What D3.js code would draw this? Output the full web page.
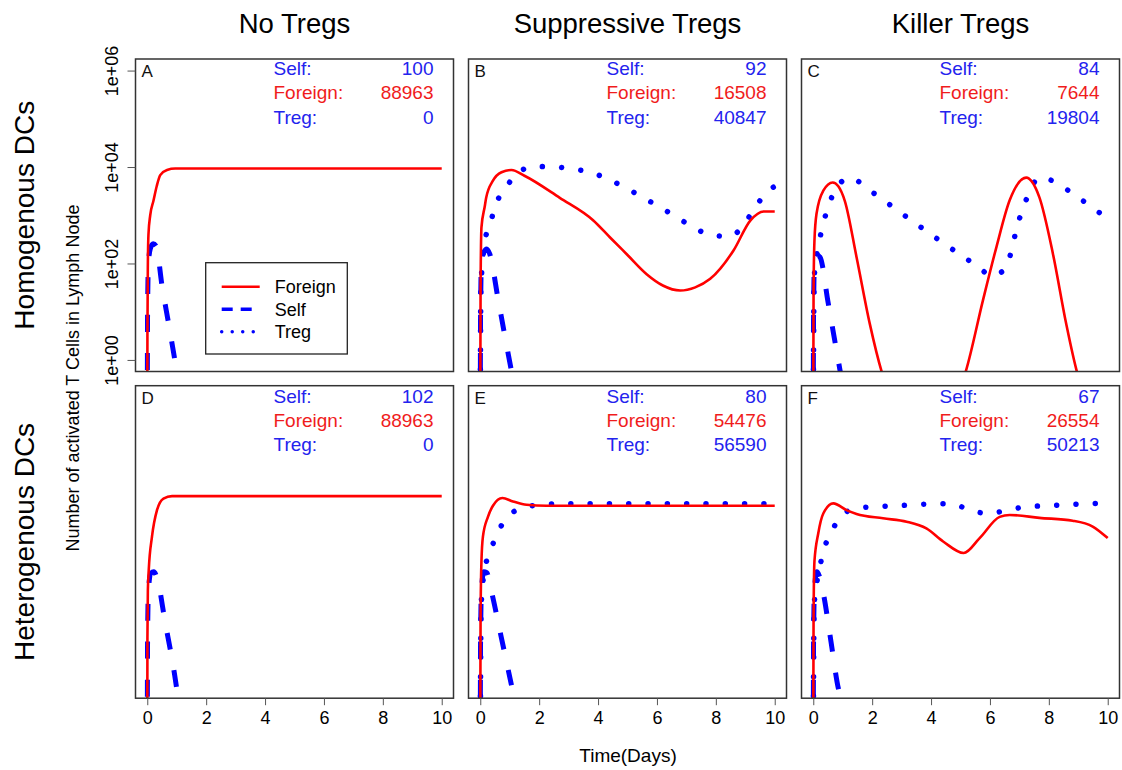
<!DOCTYPE html>
<html>
<head>
<meta charset="utf-8">
<script src="https://cdn.jsdelivr.net/npm/d3@7"></script>
<style>
  html, body { margin: 0; padding: 0; background: #ffffff; }
  svg { display: block; font-family: "Liberation Sans", Arial, Helvetica, sans-serif; }
</style>
</head>
<body>
<svg id="chart" width="1122" height="770"></svg>
<script>
// ---------------- DATA ----------------
const columnTitles = ["No Tregs", "Suppressive Tregs", "Killer Tregs"];
const rowTitles = ["Homogenous DCs", "Heterogenous DCs"];
const panelLetters = ["A", "B", "C", "D", "E", "F"];
const xTicks = [0, 2, 4, 6, 8, 10];
const yTicks = [1, 100, 10000, 1000000];
const yTickLabels = ["1e+00", "1e+02", "1e+04", "1e+06"];
const seriesNames = ["Foreign", "Self", "Treg"];
const yAxisTitle = "Number of activated T Cells in Lymph Node";
const xAxisTitle = "Time(Days)";

// totals shown in the panel corners  [Self, Foreign, Treg]
const totalsA = [100, 88963, 0];
const totalsB = [92, 16508, 40847];
const totalsC = [84, 7644, 19804];
const totalsD = [102, 88963, 0];
const totalsE = [80, 54476, 56590];
const totalsF = [67, 26554, 50213];

// time series [day, activated cells]
const foreignA = [[0,0.1],[0.005,3],[0.02,100],[0.04,400],[0.1,1000],[0.21,2000],[0.32,4000],[0.44,6800],[0.67,8700],[0.95,9300],[10,9300]];
const selfA    = [[0,0.1],[0.01,10],[0.04,100],[0.1,200],[0.2,255],[0.3,230],[0.5,35],[0.75,4.6],[1.0,0.58],[1.2,0.1]];
const tregA    = [];

const foreignB = [[0,0.1],[0.01,30],[0.04,560],[0.15,1500],[0.2,2300],[0.43,5200],[0.72,7800],[1.06,8700],[1.5,6600],[2.7,2300],[3.84,780],[4.4,350],[5.0,150],[5.65,60],[6.2,35],[6.79,27.5],[7.3,32],[7.81,48],[8.6,186],[9.17,776],[9.63,1200],[10,1200]];
const selfB    = [[0,0.1],[0.01,10],[0.04,100],[0.12,170],[0.22,200],[0.32,158],[0.6,19],[0.85,2.8],[1.06,0.58],[1.2,0.2]];
const tregB    = [[0,0.1],[0.02,30],[0.15,275],[0.34,676],[0.52,1622],[0.86,3631],[1.25,7413],[1.85,10233],[2.5,10000],[3.15,9120],[3.8,7586],[4.4,5370],[4.97,3631],[5.54,2291],[6.1,1479],[6.67,912],[7.24,562],[7.83,389],[8.47,363],[8.97,661],[9.32,1413],[9.71,2884],[10,4000]];

const foreignC = [[0,0.1],[0.01,30],[0.04,300],[0.11,1072],[0.34,3236],[0.66,4786],[0.85,4000],[1.07,1995],[1.47,135],[1.92,5.6],[2.32,0.58],[2.8,0.1],[3.75,0.03],[4.7,0.1],[5.18,0.58],[5.76,17],[6.22,219],[6.67,2042],[7.23,6026],[7.68,2344],[8.14,158],[8.59,5.6],[8.95,0.58],[9.4,0.1],[10,0.03]];
const selfC    = [[0,0.1],[0.01,10],[0.04,100],[0.12,150],[0.23,135],[0.5,16],[0.7,3.2],[0.9,0.65],[1.05,0.2]];
const tregC    = [[0,0.1],[0.03,50],[0.2,275],[0.34,676],[0.53,1622],[0.79,3802],[1.27,6026],[1.81,3631],[2.35,2138],[2.86,1259],[3.39,741],[3.93,427],[4.45,257],[5.0,151],[5.54,91],[6.07,56],[6.56,83],[6.74,200],[6.89,479],[7.08,1202],[7.32,2754],[7.66,6026],[8.25,4786],[8.78,2884],[9.3,1738],[9.83,1023],[10,900]];

const foreignD = [[0,0.1],[0.005,10],[0.02,100],[0.05,263],[0.16,1288],[0.33,4571],[0.55,7943],[0.84,8913],[10,8913]];
const selfD    = [[0,0.1],[0.01,10],[0.04,100],[0.12,224],[0.22,240],[0.35,162],[0.6,23],[0.92,1.9],[1.03,0.68],[1.15,0.2]];
const tregD    = [];

const foreignE = [[0,0.1],[0.01,30],[0.04,400],[0.09,1288],[0.26,3311],[0.43,5623],[0.75,8128],[1.11,6918],[1.57,5888],[2.25,5623],[10,5623]];
const selfE    = [[0,0.1],[0.01,10],[0.04,100],[0.12,240],[0.22,230],[0.37,100],[0.7,11.5],[1.06,1.07]];
const tregE    = [[0,0.1],[0.03,50],[0.15,263],[0.34,631],[0.57,1479],[0.91,3162],[1.43,5129],[2.08,5888],[2.7,6166],[10,6166]];

const foreignF = [[0,0.1],[0.01,30],[0.04,400],[0.17,1514],[0.34,3890],[0.68,6310],[1.13,4571],[1.47,3802],[2.37,3090],[3.17,2630],[3.84,1905],[4.41,1023],[5.11,589],[5.65,1202],[6.33,3311],[6.67,3631],[7.68,3162],[8.81,2754],[9.49,2089],[10,1202]];
const selfF    = [[0,0.1],[0.01,10],[0.04,100],[0.12,240],[0.2,200],[0.34,87],[0.6,8.7],[0.85,0.93],[0.9,0.7]];
const tregF    = [[0,0.1],[0.03,50],[0.2,251],[0.34,631],[0.59,1479],[0.9,3162],[1.45,5012],[2.09,5370],[2.75,5623],[3.39,5888],[4.05,6166],[4.71,6166],[5.31,4571],[5.96,3890],[6.59,4571],[7.23,5370],[7.89,5623],[8.53,5888],[9.18,6166],[9.83,6310],[10,6310]];

// ---------------- LAYOUT ----------------
const panels = [
  {letter: "A", totals: totalsA, foreign: foreignA, self: selfA, treg: tregA},
  {letter: "B", totals: totalsB, foreign: foreignB, self: selfB, treg: tregB},
  {letter: "C", totals: totalsC, foreign: foreignC, self: selfC, treg: tregC},
  {letter: "D", totals: totalsD, foreign: foreignD, self: selfD, treg: tregD},
  {letter: "E", totals: totalsE, foreign: foreignE, self: selfE, treg: tregE},
  {letter: "F", totals: totalsF, foreign: foreignF, self: selfF, treg: tregF}
];
const colX = [135.5, 468.5, 801.5];
const rowY = [59, 385.7];
const PW = 318, PH = 312.5;

const RED = "#ff0000", BLUE = "#0000ff";
const TXT_BLUE = "#2323ee", TXT_RED = "#f01c1c";

const svg = d3.select("#chart");

const x = d3.scaleLinear().domain([-0.4, 10.4]).range([0, PW]);
const y = d3.scaleLog().domain([Math.pow(10, -0.24), Math.pow(10, 6.24)]).range([PH, 0]);

const line = d3.line()
  .x(d => x(d[0]))
  .y(d => y(d[1]))
  .curve(d3.curveMonotoneX);

const defs = svg.append("defs");

panels.forEach((p, i) => {
  const col = i % 3, row = Math.floor(i / 3);
  const g = svg.append("g").attr("transform", `translate(${colX[col]},${rowY[row]})`);
  const clipId = "clip" + i;
  defs.append("clipPath").attr("id", clipId)
    .append("rect").attr("x", 0).attr("y", 0).attr("width", PW).attr("height", PH);

  const plot = g.append("g").attr("clip-path", `url(#${clipId})`);

  if (p.self.length) {
    plot.append("path").datum(p.self)
      .attr("d", line).attr("fill", "none").attr("stroke", BLUE)
      .attr("stroke-width", 5).attr("stroke-dasharray", "17,21")
      .attr("stroke-linecap", "butt");
  }
  if (p.treg.length) {
    plot.append("path").datum(p.treg)
      .attr("d", line).attr("fill", "none").attr("stroke", BLUE)
      .attr("stroke-width", 5.5).attr("stroke-dasharray", "0.01,19.3")
      .attr("stroke-linecap", "round");
  }
  plot.append("path").datum(p.foreign)
    .attr("d", line).attr("fill", "none").attr("stroke", RED)
    .attr("stroke-width", 2.6).attr("stroke-linejoin", "round");

  // box
  g.append("rect").attr("x", 0).attr("y", 0).attr("width", PW).attr("height", PH)
    .attr("fill", "none").attr("stroke", "#333").attr("stroke-width", 1.5);

  // panel letter
  g.append("text").attr("x", 6).attr("y", row === 0 ? 18 : 18.5)
    .attr("font-size", 17).attr("fill", "#111").text(p.letter);

  // totals
  const labels = ["Self:", "Foreign:", "Treg:"];
  const colors = [TXT_BLUE, TXT_RED, TXT_BLUE];
  const baseY = row === 0 ? 16 : 17;
  labels.forEach((lab, k) => {
    g.append("text").attr("x", 138).attr("y", baseY + k * 24.3)
      .attr("font-size", 19).attr("fill", colors[k]).text(lab);
    g.append("text").attr("x", 298).attr("y", baseY + k * 24.3)
      .attr("font-size", 19).attr("fill", colors[k]).attr("text-anchor", "end")
      .text(p.totals[k]);
  });

  // x axis (bottom row)
  if (row === 1) {
    const ax = g.append("g").attr("transform", `translate(0,${PH})`)
      .call(d3.axisBottom(x).tickValues(xTicks).tickSize(7).tickPadding(6).tickFormat(d3.format("d")));
    ax.select(".domain").remove();
    ax.selectAll(".tick line").attr("stroke", "#555").attr("stroke-width", 1);
    ax.selectAll(".tick text").attr("font-size", 18).attr("fill", "#000")
      .attr("font-family", "Liberation Sans, Arial, sans-serif");
  }
  // y axis (top-left only)
  if (i === 0) {
    const ay = g.append("g")
      .call(d3.axisLeft(y).tickValues(yTicks).tickSize(8).tickFormat((d, k) => yTickLabels[k]));
    ay.select(".domain").remove();
    ay.selectAll(".tick line").attr("stroke", "#555").attr("stroke-width", 1);
    ay.selectAll(".tick text")
      .attr("font-size", 18).attr("fill", "#000")
      .attr("font-family", "Liberation Sans, Arial, sans-serif")
      .attr("x", null).attr("dy", null)
      .attr("text-anchor", "middle")
      .attr("transform", "translate(-17.5,0) rotate(-90)");
  }

  // legend in panel A
  if (i === 0) {
    const lg = g.append("g").attr("transform", "translate(70.2,203.7)");
    lg.append("rect").attr("x", 0).attr("y", 0).attr("width", 141.6).attr("height", 91.3)
      .attr("fill", "#fff").attr("stroke", "#222").attr("stroke-width", 1.3);
    const styles = [
      {c: RED, w: 2.6, dash: null, cap: "butt"},
      {c: BLUE, w: 3.5, dash: "11,8", cap: "butt"},
      {c: BLUE, w: 3.5, dash: "0.01,10.5", cap: "round"}
    ];
    seriesNames.forEach((nm, k) => {
      const ly = 24 + k * 22.5;
      const ln = lg.append("line").attr("x1", 16).attr("x2", 54).attr("y1", ly).attr("y2", ly)
        .attr("stroke", styles[k].c).attr("stroke-width", styles[k].w)
        .attr("stroke-linecap", styles[k].cap);
      if (styles[k].dash) ln.attr("stroke-dasharray", styles[k].dash);
      lg.append("text").attr("x", 69).attr("y", ly + 6.5).attr("font-size", 18)
        .attr("fill", "#000").text(nm);
    });
  }
});

// column titles
const titleCenters = colX.map(c => c + PW / 2);
columnTitles.forEach((t, k) => {
  svg.append("text").attr("x", titleCenters[k]).attr("y", 33)
    .attr("text-anchor", "middle").attr("font-size", 27.5).attr("fill", "#000").text(t);
});
// row titles
rowTitles.forEach((t, k) => {
  const cy = rowY[k] + PH / 2;
  svg.append("text").attr("transform", `translate(34,${cy}) rotate(-90)`)
    .attr("text-anchor", "middle").attr("font-size", 28).attr("fill", "#000").text(t);
});
// axis titles
svg.append("text").attr("transform", "translate(79,378) rotate(-90)")
  .attr("text-anchor", "middle").attr("font-size", 18).attr("fill", "#000").text(yAxisTitle);
svg.append("text").attr("x", 628).attr("y", 762)
  .attr("text-anchor", "middle").attr("font-size", 19).attr("fill", "#000").text(xAxisTitle);
</script>
</body>
</html>
